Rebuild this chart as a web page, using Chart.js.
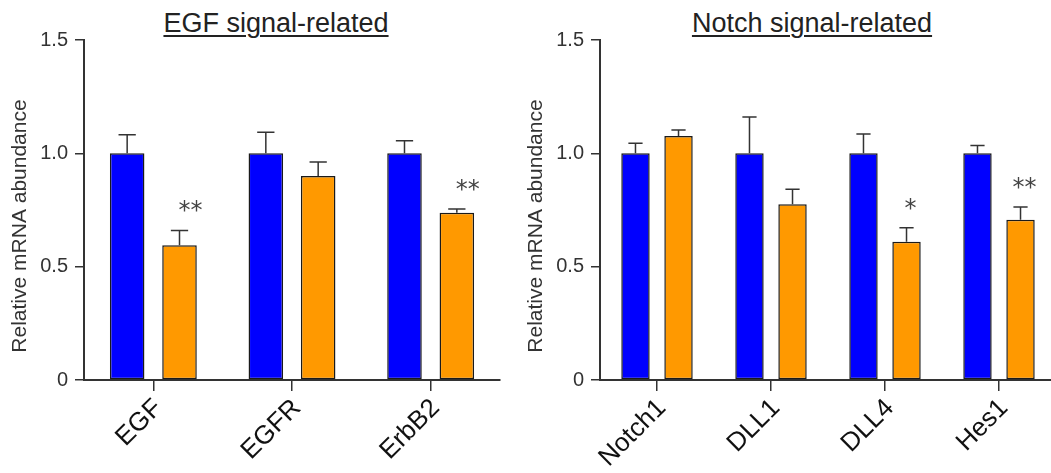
<!DOCTYPE html>
<html lang="en">
<head>
<meta charset="UTF-8">
<script src="https://cdn.jsdelivr.net/npm/chart.js"></script>
<title>EGF / Notch signal-related mRNA</title>
<style>
  html, body { margin: 0; padding: 0; background: #fff; overflow: hidden; }
  body { width: 1051px; height: 473px; position: relative; font-family: "Liberation Sans", Arial, sans-serif; }
  canvas { position: absolute; top: 0; }
  .title {
    position: absolute; top: 10px; font-size: 27px; line-height: 27px; color: #222;
    white-space: nowrap; transform: translateX(-50%);
    text-decoration: underline; text-decoration-thickness: 1.5px; text-underline-offset: 3px;
  }
</style>
</head>
<body>
  <div class="title" style="left:276px">EGF signal-related</div>
  <div class="title" style="left:812px">Notch signal-related</div>
  <canvas id="egf-chart" width="520" height="473" style="left:0"></canvas>
  <canvas id="notch-chart" width="554" height="473" style="left:516px"></canvas>
<script>
// EGF panel
const egfLabels = ['EGF', 'EGFR', 'ErbB2'];
const egfControl = [1.00, 1.00, 1.00];
const egfControlErr = [0.082, 0.093, 0.055];
const egfTreated = [0.595, 0.90, 0.738];
const egfTreatedErr = [0.065, 0.062, 0.016];
const egfStars = ['**', '', '**'];

// Notch panel
const notchLabels = ['Notch1', 'DLL1', 'DLL4', 'Hes1'];
const notchControl = [1.00, 1.00, 1.00, 1.00];
const notchControlErr = [0.044, 0.16, 0.085, 0.035];
const notchTreated = [1.076, 0.775, 0.61, 0.707];
const notchTreatedErr = [0.027, 0.066, 0.062, 0.056];
const notchStars = ['', '', '*', '**'];

const yTicks = [0, 0.5, 1.0, 1.5];
const yTitle = 'Relative mRNA abundance';

Chart.defaults.font.family = '"Liberation Sans", Arial, sans-serif';
Chart.defaults.color = '#333';

// draws the upward error bars, significance marks and the y title
const errorBars = {
  id: 'errorBars',
  afterDatasetsDraw(chart, args, opts) {
    const ctx = chart.ctx;
    const y = chart.scales.y;
    chart.data.datasets.forEach((ds, i) => {
      const meta = chart.getDatasetMeta(i);
      meta.data.forEach((bar, j) => {
        const top = y.getPixelForValue(ds.data[j] + ds.errors[j]);
        const half = bar.width * 0.25;
        ctx.save();
        ctx.strokeStyle = '#333';
        ctx.lineWidth = 1.5;
        ctx.beginPath();
        ctx.moveTo(bar.x, bar.y);
        ctx.lineTo(bar.x, top);
        ctx.moveTo(bar.x - half, top);
        ctx.lineTo(bar.x + half, top);
        ctx.stroke();
        if (ds.stars && ds.stars[j]) {
          ctx.fillStyle = '#444';
          ctx.font = '24px "DejaVu Sans", sans-serif';
          ctx.textAlign = 'center';
          ctx.textBaseline = 'alphabetic';
          ctx.fillText(ds.stars[j], bar.x + opts.starShift, top - 12);
        }
        ctx.restore();
      });
    });

    // axis title sits a bit below the axis middle in the original
    const area = chart.chartArea;
    ctx.save();
    ctx.translate(20, (area.top + area.bottom) / 2 + 16);
    ctx.rotate(-Math.PI / 2);
    ctx.fillStyle = '#333';
    ctx.font = '21px "Liberation Sans", Arial, sans-serif';
    ctx.textAlign = 'center';
    ctx.textBaseline = 'middle';
    ctx.fillText(yTitle, 0, 0);
    ctx.restore();
  }
};

function makeChart(id, labels, ctrl, ctrlErr, trt, trtErr, stars, rightPad, starShift) {
  return new Chart(document.getElementById(id), {
    type: 'bar',
    data: {
      labels: labels,
      datasets: [{
        data: ctrl,
        errors: ctrlErr,
        backgroundColor: '#0000ff',
        borderColor: '#1a1a1a',
        borderWidth: 1.5,
        borderSkipped: false
      }, {
        data: trt,
        errors: trtErr,
        stars: stars,
        backgroundColor: '#ff9900',
        borderColor: '#1a1a1a',
        borderWidth: 1.5,
        borderSkipped: false
      }]
    },
    options: {
      responsive: false,
      animation: false,
      events: [],
      layout: { padding: { left: 0, right: rightPad, top: 40, bottom: 0 } },
      datasets: { bar: { categoryPercentage: 0.755, barPercentage: 0.66 } },
      scales: {
        x: {
          afterFit: s => { s.height = 93; },
          grid: { offset: false, drawOnChartArea: false, drawTicks: true, tickLength: 11, color: '#333', lineWidth: 1.5 },
          border: { display: true, color: '#333', width: 2 },
          ticks: { minRotation: 45, maxRotation: 45, padding: 2, labelOffset: 5, color: '#111', font: { size: 26 } }
        },
        y: {
          min: 0, max: 1.5,
          afterFit: s => { s.width = 84; },
          afterBuildTicks: s => { s.ticks = yTicks.map(v => ({ value: v })); },
          grid: { drawOnChartArea: false, drawTicks: true, tickLength: 9, color: '#333', lineWidth: 1.5 },
          border: { display: true, color: '#333', width: 2 },
          ticks: {
            padding: 7, color: '#333', font: { size: 20 },
            callback: v => v === 0 ? '0' : v.toFixed(1)
          }
        }
      },
      plugins: {
        legend: { display: false },
        tooltip: { enabled: false },
        errorBars: { starShift: starShift }
      }
    },
    plugins: [errorBars]
  });
}

makeChart('egf-chart', egfLabels, egfControl, egfControlErr, egfTreated, egfTreatedErr, egfStars, 20, 11);
makeChart('notch-chart', notchLabels, notchControl, notchControlErr, notchTreated, notchTreatedErr, notchStars, 14, 4);
</script>
</body>
</html>
